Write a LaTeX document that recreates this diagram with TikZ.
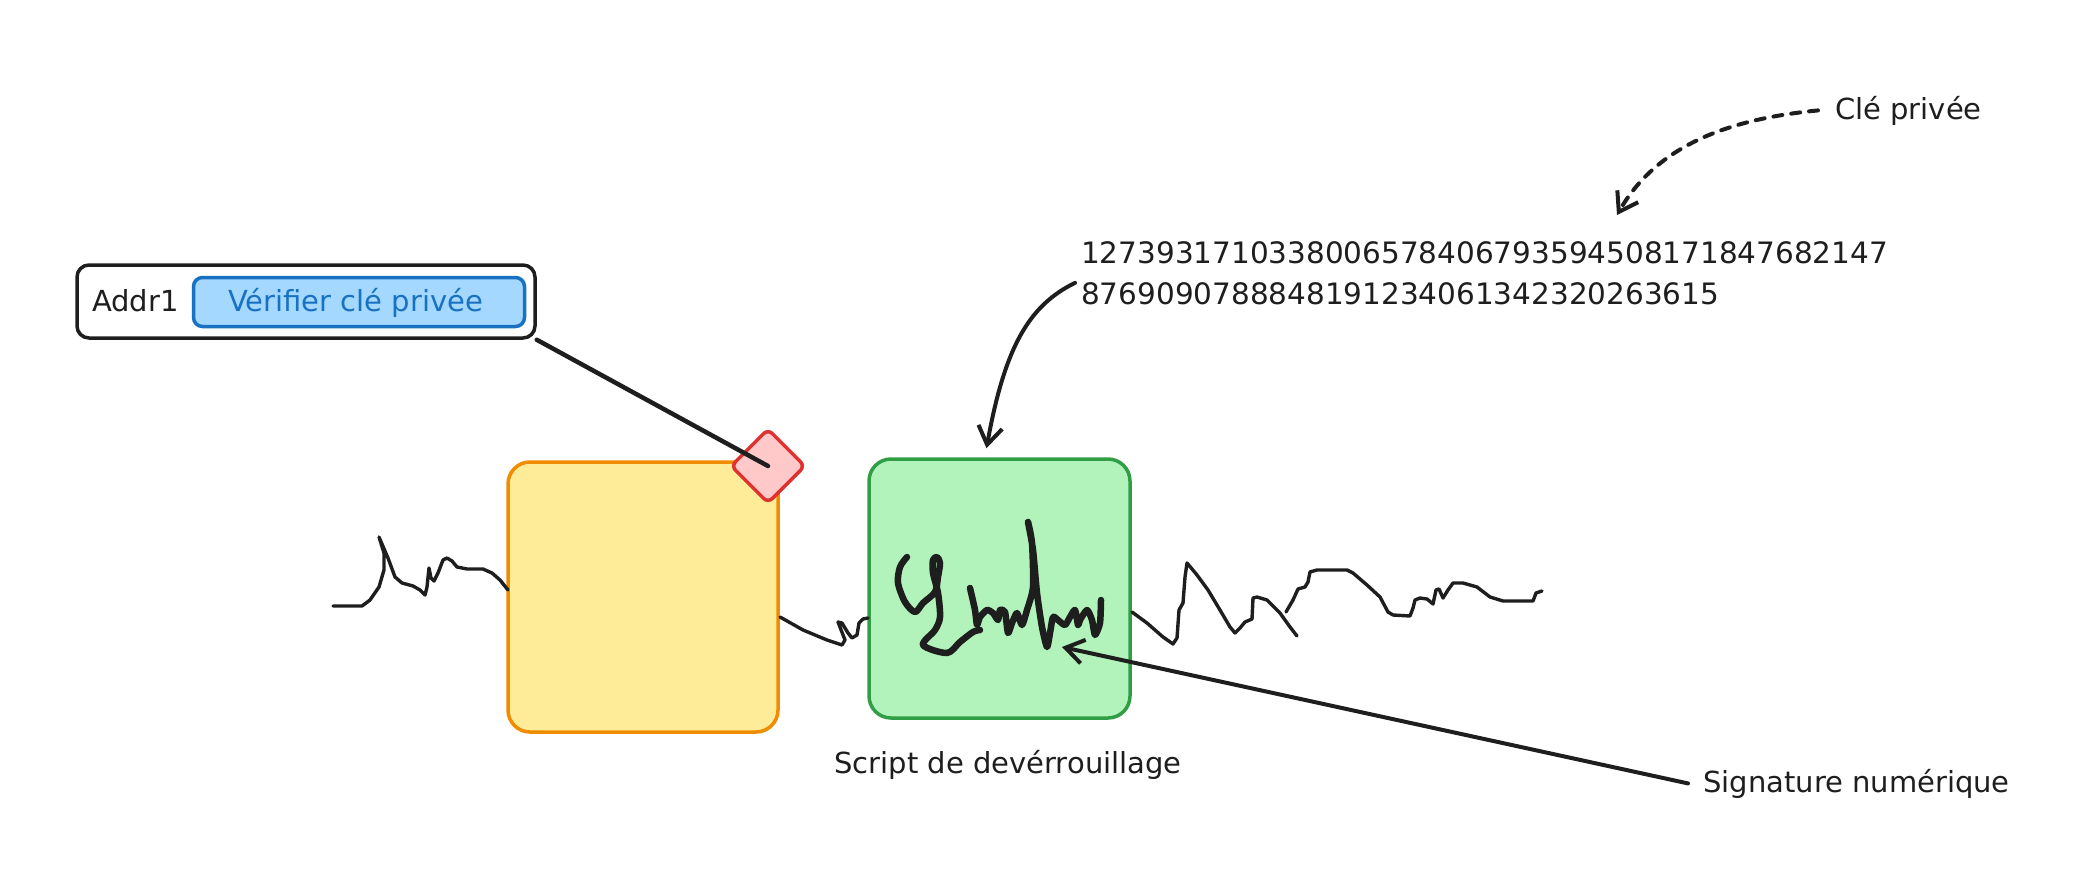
\documentclass[tikz,border=0pt]{standalone}
\usepackage{fontspec}
\setmainfont{DejaVu Sans}
\usetikzlibrary{shapes.geometric,positioning,arrows.meta,calc}

\definecolor{ink}{HTML}{1E1E1E}
\definecolor{noteyellow}{HTML}{FFEC99}
\definecolor{noteorange}{HTML}{F08C00}
\definecolor{scriptgreen}{HTML}{B2F2BB}
\definecolor{scriptborder}{HTML}{2F9E44}
\definecolor{lockpink}{HTML}{FFC9C9}
\definecolor{lockred}{HTML}{E03131}
\definecolor{btnblue}{HTML}{A5D8FF}
\definecolor{btnborder}{HTML}{1971C2}

\begin{document}
\begin{tikzpicture}[x=1pt,y=-1pt,
    txt/.style={font=\fontsize{29}{41}\selectfont, text=ink, inner sep=0pt},
    card/.style={draw, line width=3.5pt, rounded corners=22pt},
    wave/.style={draw=ink, line width=3.4pt, line join=round, line cap=round},
    scribble/.style={draw=ink, line width=6.5pt, line join=round, line cap=round},
    pointer/.style={draw=ink, line width=4pt, line cap=round,
        -{Straight Barb[length=18pt,width=24pt]}}]

\useasboundingbox (0,0) rectangle (2097,889);

\node[draw=ink, fill=white, line width=3.5pt, rounded corners=12pt,
      minimum width=458pt, minimum height=73pt] (addr) at (306,301.5) {};
\node[draw=btnborder, fill=btnblue, line width=3.5pt, rounded corners=9pt,
      minimum width=331pt, minimum height=49pt] (verify) at (359,302) {};
\node[txt, anchor=base west] (addrlabel) at (92,311) {Addr1};
\node[txt, anchor=base west, text=btnborder] (verifylabel) at (228,311) {Vérifier clé privée};

\node[card, draw=noteorange, fill=noteyellow,
      minimum width=270pt, minimum height=270pt] (note) at (643,597) {};
\node[card, draw=scriptborder, fill=scriptgreen,
      minimum width=261pt, minimum height=259pt] (script) at (999.5,588.5) {};

\node[draw=lockred, fill=lockpink, line width=3.5pt, rounded corners=6pt,
      rotate=45, minimum size=52pt] (lock) at (768,466) {};
\draw[ink, line width=4.5pt, line cap=round] (addr.south east) -- (lock.center);

\node[txt, anchor=base] (scriptlabel) at (1008,773) {Script de devérrouillage};

\node[txt, font=\fontsize{29.5}{41}\selectfont, anchor=north west, align=left] (num) at (1081,241)
    {1273931710338006578406793594508171847682147\\8769090788848191234061342320263615};
\node[txt, anchor=base west] (keylabel) at (1835,119) {Clé privée};
\node[txt, anchor=base west] (siglabel) at (1703,792) {Signature numérique};

\coordinate (keytip) at (1617,215);
\coordinate (sigtip) at (1062,647);

\draw[wave] plot coordinates {(333,606) (362,606) (370,600) (379,587) (384,570)
    (384,553) (379,537) (388,558) (395,577) (402,583) (413,586) (420,590)
    (425,595) (427,587) (429,568) (431,578) (434,581) (438,573) (443,560)
    (447,558) (452,561) (457,567) (467,569) (483,569) (492,573) (500,580)
    (508,590)};
\draw[wave] plot coordinates {(780,617) (803,630) (827,640) (842,645) (845,640)
    (838,622) (842,623) (848,633) (852,638) (857,635) (859,623) (863,619)
    (868,618)};
\draw[wave] plot coordinates {(1132,612) (1147,623) (1163,637) (1173,644)
    (1177,638) (1179,610) (1183,603) (1185,577) (1187,563) (1197,575)
    (1208,590) (1220,610) (1230,627) (1235,633) (1240,628) (1245,622)
    (1252,619) (1253,598) (1257,597) (1267,600) (1280,613) (1290,627)
    (1297,636)};
\draw[wave] plot coordinates {(1286,612) (1293,600) (1298,589) (1305,587)
    (1308,582) (1310,572) (1317,570) (1347,570) (1353,573) (1367,585)
    (1380,597) (1388,612) (1393,615) (1410,616) (1413,608) (1415,600)
    (1420,598) (1427,599) (1433,604) (1436,590) (1439,589) (1443,598)
    (1448,590) (1453,583) (1463,583) (1477,587) (1490,597) (1503,601)
    (1533,601) (1536,593) (1542,591)};

\draw[scribble] plot[smooth, tension=0.5] coordinates {(907,557) (900,567)
    (898,583) (905,602) (915,612) (923,603) (935,592) (938,577) (940,563)
    (937,557) (933,560) (933,573) (938,593) (940,617) (935,630) (923,645)
    (947,653) (960,642) (973,632) (980,630)};
\draw[scribble] plot[smooth, tension=0.4] coordinates {(970,588) (975,610)
    (977,625) (980,617) (987,610) (993,613) (998,620) (1000,610) (1005,612)
    (1008,633) (1012,623) (1017,613) (1022,625) (1027,610) (1033,587)
    (1032,543) (1028,522) (1033,550) (1037,593) (1042,627) (1047,647)
    (1050,633) (1053,617) (1058,620) (1065,625) (1070,617) (1075,610)
    (1078,625) (1080,620) (1087,610) (1092,620) (1095,635) (1100,623)
    (1101,600)};

\draw[pointer] ([shift={(-6,10)}]num.west) .. controls (1030,305) and (1005,345)
    .. ([shift={(-13,-9)}]script.north);
\draw[pointer, dash pattern=on 9pt off 9pt] ([xshift=-17pt]keylabel.west)
    .. controls (1740,118) and (1660,140) .. (keytip);
\draw[pointer] ([xshift=-15pt]siglabel.west) -- (sigtip);

\end{tikzpicture}
\end{document}
